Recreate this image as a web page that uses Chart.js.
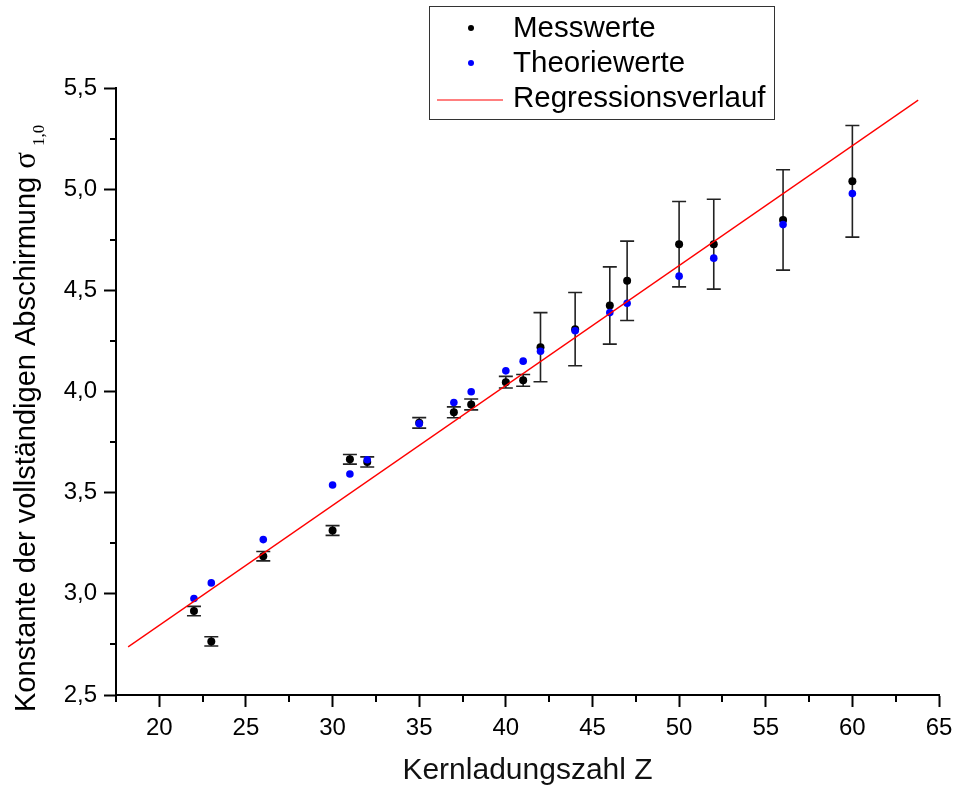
<!DOCTYPE html>
<html><head><meta charset="utf-8">
<script src="https://cdn.jsdelivr.net/npm/chart.js@4.4.1/dist/chart.umd.min.js"></script>
<style>html,body{margin:0;padding:0;background:#fff;} canvas{display:block;}</style>
</head><body>
<canvas id="c" width="955" height="789"></canvas>
<script>
// ---- data ----
const zValues      = [22, 23, 26, 30, 31, 32, 35, 37, 38, 40, 41, 42, 44, 46, 47, 50, 52, 56, 60];
const messwerte    = [2.915, 2.765, 3.186, 3.313, 3.665, 3.652, 3.845, 3.897, 3.936, 4.046, 4.055, 4.219, 4.308, 4.425, 4.547, 4.728, 4.728, 4.848, 5.039];
const messFehler   = [0.023, 0.023, 0.023, 0.024, 0.024, 0.025, 0.026, 0.027, 0.027, 0.029, 0.029, 0.171, 0.181, 0.191, 0.196, 0.211, 0.222, 0.248, 0.276];
const theoriewerte = [2.977, 3.054, 3.268, 3.538, 3.592, 3.663, 3.841, 3.946, 3.999, 4.102, 4.150, 4.199, 4.300, 4.390, 4.436, 4.570, 4.659, 4.825, 4.978];
const regressionZ  = [18.2, 63.8];
const regressionV  = [2.738, 5.440];
const seriesLabels = ['Messwerte', 'Theoriewerte', 'Regressionsverlauf'];

const xTicks       = [20, 25, 30, 35, 40, 45, 50, 55, 60, 65];
const xTickLabels  = ['20', '25', '30', '35', '40', '45', '50', '55', '60', '65'];
const xMinorTicks  = [17.5, 22.5, 27.5, 32.5, 37.5, 42.5, 47.5, 52.5, 57.5, 62.5];
const yTicks       = [2.5, 3.0, 3.5, 4.0, 4.5, 5.0, 5.5];
const yTickLabels  = ['2,5', '3,0', '3,5', '4,0', '4,5', '5,0', '5,5'];
const yMinorTicks  = [2.75, 3.25, 3.75, 4.25, 4.75, 5.25];

const xTitle       = 'Kernladungszahl Z';
const yTitleMain   = 'Konstante der vollständigen Abschirmung';
const yTitleSymbol = 'σ';
const yTitleSub    = '1,0';

const SANS = "'Liberation Sans', Arial, sans-serif";
const SERIF = "'Liberation Serif', 'Times New Roman', serif";
Chart.defaults.font.family = SANS;
Chart.defaults.color = '#000';

const errorBarPlugin = {
  id: 'errorBars',
  beforeDatasetsDraw(chart) {
    const {ctx, scales: {x, y}} = chart;
    ctx.save();
    ctx.strokeStyle = '#222';
    ctx.lineWidth = 1.6;
    zValues.forEach((z, i) => {
      const px = x.getPixelForValue(z);
      const top = y.getPixelForValue(messwerte[i] + messFehler[i]);
      const bot = y.getPixelForValue(messwerte[i] - messFehler[i]);
      ctx.beginPath();
      ctx.moveTo(px, top); ctx.lineTo(px, bot);
      ctx.moveTo(px - 7, top); ctx.lineTo(px + 7, top);
      ctx.moveTo(px - 7, bot); ctx.lineTo(px + 7, bot);
      ctx.stroke();
    });
    ctx.restore();
  }
};

const decorPlugin = {
  id: 'decor',
  afterDraw(chart) {
    const {ctx, scales: {x, y}, chartArea} = chart;
    ctx.save();
    // minor ticks
    ctx.strokeStyle = '#000';
    ctx.lineWidth = 2;
    ctx.beginPath();
    xMinorTicks.forEach(v => {
      const px = Math.round(x.getPixelForValue(v));
      ctx.moveTo(px, chartArea.bottom); ctx.lineTo(px, chartArea.bottom + 7);
    });
    yMinorTicks.forEach(v => {
      const py = Math.round(y.getPixelForValue(v));
      ctx.moveTo(chartArea.left, py); ctx.lineTo(chartArea.left - 6, py);
    });
    ctx.stroke();

    // legend box
    const ds = chart.data.datasets;
    ctx.fillStyle = '#fff';
    ctx.fillRect(429.5, 6.5, 345, 113);
    ctx.strokeStyle = '#333';
    ctx.lineWidth = 1;
    ctx.strokeRect(429.5, 6.5, 345, 113);
    ctx.font = '29.5px ' + SANS;
    ctx.textBaseline = 'alphabetic';
    ctx.textAlign = 'left';
    const baselines = [37, 72, 107];
    ds.forEach((d, i) => {
      const b = baselines[i];
      if (d.showLine) {
        ctx.strokeStyle = d.borderColor;
        ctx.lineWidth = 1.2;
        ctx.beginPath();
        ctx.moveTo(437, b - 7); ctx.lineTo(503, b - 7);
        ctx.stroke();
      } else {
        ctx.fillStyle = d.backgroundColor;
        ctx.beginPath();
        ctx.arc(471, b - 9, 3, 0, Math.PI * 2);
        ctx.fill();
      }
      ctx.fillStyle = '#000';
      ctx.fillText(d.label, 513, b);
    });

    // y-axis title with sigma and subscript
    ctx.translate(35, 712);
    ctx.rotate(-Math.PI / 2);
    ctx.fillStyle = '#000';
    ctx.font = '29px ' + SANS;
    ctx.fillText(yTitleMain, 0, 0);
    let w = ctx.measureText(yTitleMain).width;
    ctx.font = '31px ' + SERIF;
    const sx = w + 8;
    ctx.fillText(yTitleSymbol, sx, 0);
    const sw = ctx.measureText(yTitleSymbol).width;
    ctx.font = '17px ' + SERIF;
    ctx.fillText(yTitleSub, sx + sw + 6, 9);
    ctx.restore();
  }
};

new Chart(document.getElementById('c'), {
  type: 'scatter',
  data: {
    datasets: [
      {
        label: seriesLabels[0],
        data: zValues.map((z, i) => ({x: z, y: messwerte[i]})),
        showLine: false,
        backgroundColor: '#000000',
        borderColor: '#000000',
        pointRadius: 4,
        borderWidth: 0,
        order: 3
      },
      {
        label: seriesLabels[1],
        data: zValues.map((z, i) => ({x: z, y: theoriewerte[i]})),
        showLine: false,
        backgroundColor: '#0000ff',
        borderColor: '#0000ff',
        pointRadius: 3.8,
        borderWidth: 0,
        order: 2
      },
      {
        label: seriesLabels[2],
        data: regressionZ.map((z, i) => ({x: z, y: regressionV[i]})),
        showLine: true,
        borderColor: '#ff0000',
        backgroundColor: '#ff0000',
        borderWidth: 1.3,
        pointRadius: 0,
        order: 1
      }
    ]
  },
  options: {
    responsive: false,
    animation: false,
    events: [],
    layout: {padding: {top: 88, right: 16, left: 0, bottom: 0}},
    plugins: {legend: {display: false}, tooltip: {enabled: false}},
    scales: {
      x: {
        type: 'linear',
        min: 17.5, max: 65,
        afterBuildTicks: s => { s.ticks = xTicks.map(v => ({value: v})); },
        afterFit: s => { s.height = 94; s.paddingLeft = 0; s.paddingRight = 0; },
        ticks: {
          callback: (v, i) => xTickLabels[i],
          font: {size: 24, family: SANS},
          color: '#000',
          padding: 7,
          maxRotation: 0,
          autoSkip: false
        },
        grid: {drawOnChartArea: false, tickLength: 12, tickWidth: 2, tickColor: '#000'},
        border: {color: '#000', width: 2},
        title: {display: true, text: xTitle, font: {size: 30, family: SANS}, color: '#111', padding: {top: 0, bottom: 0}}
      },
      y: {
        type: 'linear',
        min: 2.5, max: 5.5,
        afterBuildTicks: s => { s.ticks = yTicks.map(v => ({value: v})); },
        afterFit: s => { s.width = 116; s.paddingTop = 0; s.paddingBottom = 0; },
        ticks: {
          callback: (v, i) => yTickLabels[i],
          font: {size: 24, family: SANS},
          color: '#000',
          padding: 7,
          autoSkip: false
        },
        grid: {drawOnChartArea: false, tickLength: 12, tickWidth: 2, tickColor: '#000'},
        border: {color: '#000', width: 2}
      }
    }
  },
  plugins: [errorBarPlugin, decorPlugin]
});
</script>
</body></html>
